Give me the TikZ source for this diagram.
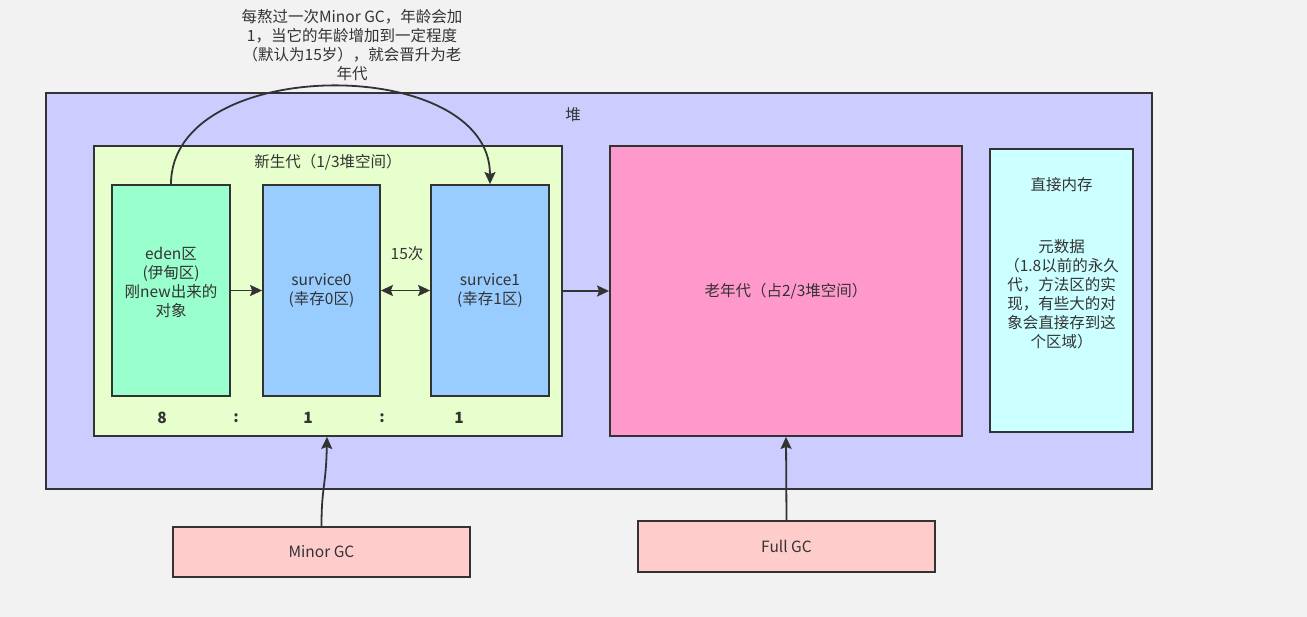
\documentclass[tikz,border=0pt]{standalone}
\usepackage{fontspec}
\setmainfont{Noto Sans CJK SC}
\usetikzlibrary{arrows.meta}
\definecolor{bggray}{HTML}{F2F2F2}
\definecolor{ink}{HTML}{333333}
\definecolor{heapblue}{HTML}{CCCCFF}
\definecolor{younggreen}{HTML}{E6FFCC}
\definecolor{edengreen}{HTML}{99FFCC}
\definecolor{survblue}{HTML}{99CCFF}
\definecolor{oldpink}{HTML}{FF99CC}
\definecolor{directcyan}{HTML}{CCFFFF}
\definecolor{gcred}{HTML}{FFCCCC}

\begin{document}
\begin{tikzpicture}[
    x=1pt, y=-1pt,
    every node/.style={font=\fontsize{15.5}{19}\selectfont, text=ink, align=center},
    area/.style={rectangle, draw=ink, line width=1.8pt, inner sep=0pt},
    space/.style={area, minimum width=118pt, minimum height=211pt},
    gcbox/.style={area, fill=gcred, minimum width=297pt},
    ratio/.style={font=\fontsize{15.5}{19}\selectfont\bfseries},
    arrow/.style={-{Stealth[length=12pt,width=11pt,inset=2pt]}, line width=1.8pt, draw=ink}
]
% --- canvas ---
\fill[bggray] (0,0) rectangle (1307,617);
\useasboundingbox (0,0) rectangle (1307,617);

% --- heap ---
\node[area, fill=heapblue, minimum width=1106pt, minimum height=396pt] (heap) at (599,291) {};
\node (heaplbl) at (573,115) {堆};

% --- young generation ---
\node[area, fill=younggreen, minimum width=468pt, minimum height=290pt] (young) at (328,291) {};
\node (younglbl) at (328,162) {新生代（1/3堆空间）};
\node[space, fill=edengreen, label={[yshift=8.5pt]center:{eden区\\(伊甸区)\\刚new出来的\\对象}}] (eden) at (171,290.5) {};
\node[space, fill=survblue, minimum width=117pt] (s0) at (321.5,290.5) {survice0\\(幸存0区)};
\node[space, fill=survblue] (s1) at (490,290.5) {survice1\\(幸存1区)};
\node (times) at (407,254) {15次};
\node[ratio] (r8) at (162,418) {8};
\node[ratio] (c1) at (236,418) {:};
\node[ratio] (r1a) at (308,418) {1};
\node[ratio] (c2) at (382,418) {:};
\node[ratio] (r1b) at (459,418) {1};

% --- old generation and direct memory ---
\node[area, fill=oldpink, minimum width=352pt, minimum height=290pt] (old) at (786,291) {老年代（占2/3堆空间）};
\node[area, fill=directcyan, minimum width=143pt, minimum height=283pt] (direct) at (1061.5,290.5) {};
\node (directlbl) at (1061.5,185) {直接内存};
\node (meta) at (1061.5,294) {元数据\\（1.8以前的永久\\代，方法区的实\\现，有些大的对\\象会直接存到这\\个区域）};

% --- gc triggers ---
\node[gcbox, minimum height=50pt] (minor) at (321.5,552) {Minor GC};
\node[gcbox, minimum height=51pt] (full) at (786.5,546.5) {Full GC};

% --- promotion note ---
\node (note) at (352,45) {每熬过一次Minor GC，年龄会加\\1，当它的年龄增加到一定程度\\（默认为15岁），就会晋升为老\\年代};

% --- arrows ---
\draw[arrow] (eden) -- (s0);
\draw[arrow, {Stealth[length=12pt,width=11pt,inset=2pt]}-{Stealth[length=12pt,width=11pt,inset=2pt]}] (s0) -- (s1);
\draw[arrow] (young) -- (old);
\draw[arrow] (eden.north) .. controls +(0,-130) and +(0,-130) .. (s1.north);
\draw[arrow] (minor.north) .. controls +(0,-40) and +(-1,50) .. ([xshift=-1pt]young.south);
\draw[arrow] (full.north) -- (old.south);
\end{tikzpicture}
\end{document}
